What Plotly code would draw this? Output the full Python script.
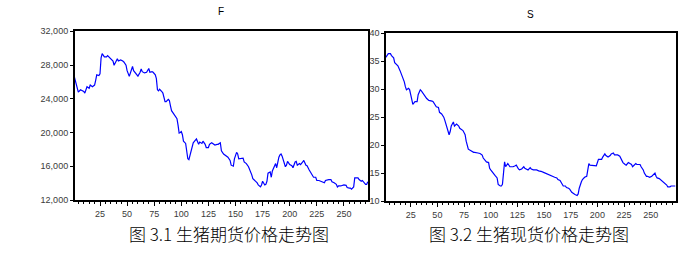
import plotly.graph_objects as go

# ---- data: futures price F (index, value) ----
F_t = [1, 3, 4, 5, 7, 10, 11, 13, 15, 16, 18, 20, 21, 22, 24, 25, 26, 27, 29, 31,
       32, 34, 35, 37, 38, 39, 41, 42, 44, 46, 47, 49, 50, 52, 53, 55, 56, 58, 60, 62,
       63, 64, 66, 68, 70, 71, 73, 74, 76, 77, 78, 79, 80, 82, 83, 85, 86, 88, 89, 90,
       91, 93, 94, 96, 97, 98, 99, 100, 101, 102, 104, 105, 106, 107, 109, 110, 111, 113, 114, 116,
       117, 119, 120, 122, 123, 125, 126, 128, 130, 131, 133, 134, 136, 137, 139, 140, 142, 143, 145, 146,
       148, 149, 151, 152, 153, 155, 157, 158, 160, 162, 163, 165, 166, 168, 170, 171, 173, 174, 175, 177,
       178, 179, 180, 182, 183, 184, 186, 187, 188, 189, 190, 191, 192, 193, 195, 196, 197, 198, 200, 202,
       203, 205, 206, 207, 209, 210, 212, 213, 215, 216, 218, 219, 221, 222, 224, 225, 227, 229, 230, 232,
       233, 235, 236, 238, 239, 241, 243, 244, 245, 247, 249, 250, 252, 253, 255, 256, 257, 259, 260, 261,
       263, 264, 266, 267, 268, 270, 271, 272]
F_v = [26760, 25810, 25510, 24790, 25060, 24860, 24670, 25430, 25240, 25620, 25430, 25620, 26190, 26830, 26760, 26950, 28850, 29340, 28960, 28960,
       29110, 28850, 28740, 28470, 27970, 28280, 28740, 28470, 28590, 28470, 28360, 27970, 27330, 26650, 27020, 27820, 27330, 26950, 26690, 27140,
       27520, 27210, 27060, 27140, 27590, 27140, 27210, 27140, 26830, 26380, 25060, 24940, 25130, 24860, 24670, 23650, 23650, 23920, 23800, 23160,
       22590, 22210, 22020, 21640, 20880, 19930, 20010, 20120, 19740, 18980, 18710, 18030, 16890, 16780, 17840, 18100, 18790, 19090, 19240, 18600,
       18870, 18710, 18980, 18600, 18220, 18220, 18600, 18790, 18600, 18520, 18600, 18600, 18790, 17840, 17460, 17350, 17080, 17080, 16700, 16130,
       16010, 16890, 17650, 17460, 16890, 16890, 16970, 16510, 16320, 15950, 15680, 14990, 14540, 14310, 14040, 13790, 13560, 13790, 14230, 13790,
       13860, 14230, 15190, 15340, 14700, 15450, 16210, 16320, 15830, 16510, 17080, 17350, 17460, 17200, 16320, 15950, 16130, 16590, 16210, 16060,
       15830, 16510, 16590, 16130, 16320, 16210, 16510, 16700, 16130, 16060, 15560, 15380, 15000, 14700, 14700, 14320, 14320, 14240, 14170, 14050,
       14320, 14430, 14430, 14430, 14170, 14050, 13860, 13560, 13670, 13670, 13750, 13790, 13750, 13480, 13410, 13410, 13290, 13560, 14620, 14620,
       14620, 14430, 14240, 14320, 14170, 13860, 13860, 14170]

# ---- data: spot price S (index, value) ----
S_t = [1, 2, 4, 6, 7, 9, 10, 12, 13, 15, 17, 18, 19, 20, 21, 23, 24, 25, 27, 29,
       31, 32, 34, 35, 37, 38, 40, 42, 43, 45, 46, 48, 49, 51, 52, 54, 56, 57, 59, 60,
       61, 62, 63, 65, 66, 68, 70, 71, 73, 74, 76, 77, 79, 81, 82, 84, 85, 87, 88, 90,
       92, 93, 95, 96, 98, 99, 100, 101, 102, 104, 106, 107, 109, 110, 111, 112, 113, 114, 115, 116,
       118, 120, 121, 123, 124, 126, 127, 129, 131, 132, 134, 135, 137, 138, 140, 141, 143, 145, 146, 148,
       149, 151, 152, 154, 156, 157, 159, 160, 162, 163, 165, 167, 168, 170, 171, 173, 174, 176, 177, 179,
       181, 182, 183, 184, 185, 186, 188, 190, 191, 192, 193, 194, 196, 197, 199, 201, 202, 204, 205, 207,
       208, 210, 212, 213, 215, 216, 218, 219, 221, 222, 224, 226, 227, 229, 230, 232, 233, 235, 236, 237,
       240, 241, 243, 244, 246, 247, 249, 251, 252, 254, 255, 256, 258, 259, 261, 263, 265, 266, 268, 269,
       271, 273]
S_v = [35.59, 35.76, 36.33, 36.33, 36.00, 35.59, 34.73, 34.45, 34.16, 33.30, 32.44, 31.87, 31.29, 30.44, 29.87, 30.15, 29.87, 29.01, 27.29, 27.75,
       27.75, 29.01, 29.87, 29.70, 29.12, 28.72, 28.32, 27.98, 27.98, 27.86, 27.75, 27.00, 26.83, 26.72, 25.85, 25.57, 24.99, 24.42, 23.17, 22.25,
       21.85, 22.42, 23.40, 24.13, 23.40, 23.74, 23.40, 22.99, 22.82, 22.59, 21.85, 20.70, 19.27, 18.99, 18.82, 18.70, 18.70, 18.70, 18.59, 18.50,
       18.20, 17.68, 17.28, 16.99, 16.87, 15.84, 15.56, 15.27, 14.99, 14.58, 14.13, 12.98, 12.69, 12.69, 12.98, 15.96, 16.99, 16.13, 16.42, 16.70,
       16.13, 16.13, 16.13, 16.30, 16.42, 15.73, 15.56, 15.73, 16.13, 15.84, 15.56, 15.56, 15.96, 15.73, 15.56, 15.56, 15.56, 15.39, 15.39, 15.27,
       15.16, 14.99, 14.82, 14.70, 14.58, 14.42, 14.24, 14.24, 14.13, 13.84, 13.67, 13.09, 12.69, 12.69, 12.41, 12.29, 12.12, 11.55, 11.38, 11.15,
       10.98, 11.27, 12.29, 12.98, 13.44, 13.84, 14.24, 14.42, 15.84, 16.70, 16.42, 16.42, 16.42, 16.42, 16.30, 17.45, 17.45, 17.45, 17.85, 18.42,
       18.13, 17.85, 18.13, 18.42, 18.59, 18.25, 18.25, 18.25, 18.02, 17.68, 16.87, 16.53, 16.42, 16.87, 16.70, 16.53, 16.13, 16.42, 16.70, 16.53,
       16.53, 16.13, 15.56, 14.99, 14.42, 14.42, 14.24, 14.42, 14.58, 14.99, 14.42, 14.13, 14.01, 13.84, 13.55, 13.09, 12.86, 12.52, 12.52, 12.69,
       12.69, 12.69]

x_ticks = [25, 50, 75, 100, 125, 150, 175, 200, 225, 250]
F_yticks = [12000, 16000, 20000, 24000, 28000, 32000]
S_yticks = [10, 15, 20, 25, 30, 35, 40]

captions = ["图 3.1 生猪期货价格走势图", "图 3.2 生猪现货价格走势图"]
titles = ["F", "S"]

W, H = 700, 256
tick_font = dict(family="Liberation Sans, Arial", size=9, color="#3a3a3a")
line_style = dict(color="#0000FF", width=1.2)

fig = go.Figure()
fig.add_trace(go.Scatter(x=F_t, y=F_v, mode="lines", line=line_style,
                         xaxis="x", yaxis="y", showlegend=False))
fig.add_trace(go.Scatter(x=S_t, y=S_v, mode="lines", line=line_style,
                         xaxis="x2", yaxis="y2", showlegend=False))

common_x = dict(showline=True, linecolor="black", linewidth=1.5, mirror=True,
                showgrid=False, zeroline=False, tickmode="array", tickvals=x_ticks,
                ticks="outside", ticklen=4, tickwidth=1, tickcolor="black",
                tickfont=tick_font,
                minor=dict(dtick=5, tick0=0, ticks="outside", ticklen=2,
                           tickcolor="black", tickwidth=1, showgrid=False))
common_y = dict(showline=True, linecolor="black", linewidth=1.5, mirror=True,
                showgrid=False, zeroline=False, ticks="outside", ticklen=3,
                tickwidth=1, tickcolor="black", tickfont=tick_font)

fig.update_layout(
    width=W, height=H,
    margin=dict(l=0, r=0, t=0, b=0),
    paper_bgcolor="white", plot_bgcolor="white",
    xaxis=dict(domain=[74.7 / W, 368.3 / W], range=[1.66, 272.5], anchor="y", **common_x),
    yaxis=dict(domain=[(H - 203) / H, (H - 27.3) / H], range=[12000, 32000],
               tickvals=F_yticks, tickformat=",d", anchor="x", **common_y),
    xaxis2=dict(domain=[386 / W, 676 / W], range=[1.84, 273.7], anchor="y2", **common_x),
    yaxis2=dict(domain=[(H - 204) / H, (H - 29.3) / H], range=[10, 40],
                tickvals=S_yticks, anchor="x2", **common_y),
)

annots = [
    dict(text=titles[0], x=221 / W, y=(H - 7) / H),
    dict(text=titles[1], x=530 / W, y=(H - 10) / H),
]
for a in annots:
    fig.add_annotation(text=a["text"], x=a["x"], y=a["y"], xref="paper", yref="paper",
                       showarrow=False, xanchor="center", yanchor="middle",
                       font=dict(family="Liberation Sans, Arial", size=10, color="black"))

for txt, cx in zip(captions, [229, 529]):
    fig.add_annotation(text=txt, x=cx / W, y=(H - 238) / H, xref="paper", yref="paper",
                       showarrow=False, xanchor="center", yanchor="middle",
                       font=dict(family="Noto Sans CJK SC", size=17, color="black",
                                 weight=300))

fig.write_html("out.html")
